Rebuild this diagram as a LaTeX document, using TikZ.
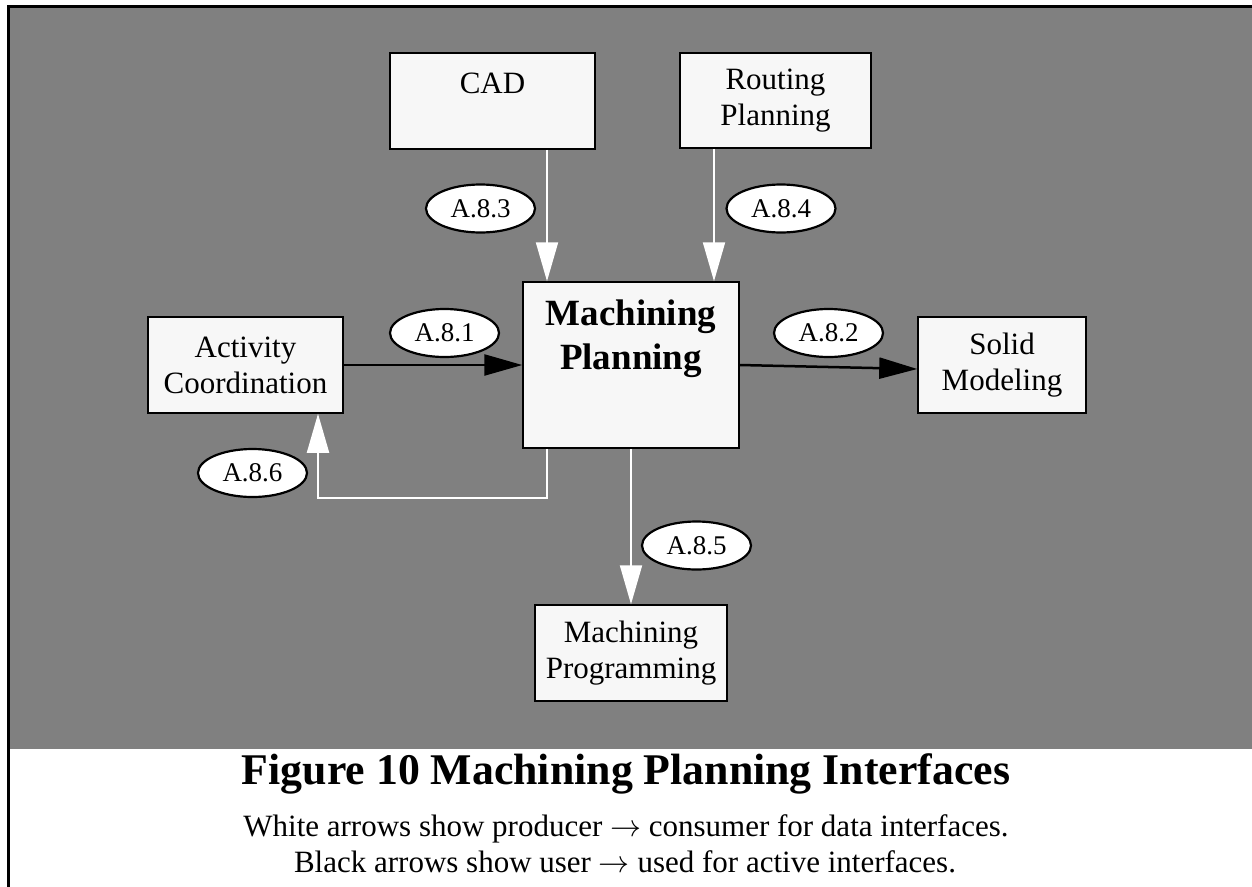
\RequirePackage{fix-cm}
\documentclass[tikz,border=0pt]{standalone}
\usepackage{fontspec}
\setmainfont{Liberation Serif}
\usetikzlibrary{arrows.meta,shapes.geometric}
\definecolor{panel}{HTML}{808080}
\definecolor{boxfill}{HTML}{F7F7F7}
\begin{document}
\begin{tikzpicture}[x=1pt,y=-1pt,
  box/.style={draw=black,line width=1.5pt,fill=boxfill,align=center,inner sep=0pt,
    font=\fontsize{31}{36}\selectfont},
  tag/.style={ellipse,draw=black,line width=2.2pt,fill=white,minimum width=109pt,
    minimum height=48pt,inner sep=0pt,font=\fontsize{27}{30}\selectfont},
  dataflow/.style={draw=white,line width=2pt,
    -{Triangle[length=39pt,width=22pt,fill=white]}},
  useflow/.style={draw=black,line width=2.5pt,
    -{Triangle[length=38pt,width=21pt,fill=black]}},
  caption/.style={anchor=base,inner sep=0pt},
]
\useasboundingbox (0,0) rectangle (1252,886);
\clip (0,0) rectangle (1252,886);
\fill[white] (0,0) rectangle (1252,886);

% gray panel and frame
\fill[panel] (8,6.5) rectangle (1260,749);
\draw[line width=3pt] (1270,6.5) -- (8,6.5) -- (8,900);

% boxes
\node[box,minimum width=205pt,minimum height=96pt] (cad) at (492.5,101) {CAD\\\phantom{P}};
\node[box,minimum width=191pt,minimum height=95pt] (rt) at (775.5,100.5) {Routing\\Planning};
\node[box,minimum width=195pt,minimum height=96pt] (act) at (245.5,365) {Activity\\Coordination};
\node[box,minimum width=216pt,minimum height=166pt] (mp) at (631,365) {};
\node[align=center,inner sep=0pt,font=\fontsize{37}{44}\selectfont\bfseries] (mptitle) at (631,339) {Machining\\Planning};
\node[box,minimum width=168pt,minimum height=96pt] (solid) at (1002,365) {Solid\\Modeling};
\node[box,minimum width=192pt,minimum height=96pt] (prog) at (631,653) {Machining\\Programming};

% lanes for the vertical connectors
\coordinate (lanecad) at (547,0);
\coordinate (lanert) at (714,0);
\coordinate (laneback) at (318,0);

% data interfaces (white)
\draw[dataflow] (cad.south -| lanecad) -- (mp.north -| lanecad);
\draw[dataflow] (rt.south -| lanert) -- (mp.north -| lanert);
\draw[dataflow] (mp.south) -- (prog.north);
\draw[dataflow] (mp.south -| lanecad) -- ++(0,49) -| (act.south -| laneback);

% active interfaces (black)
\draw[useflow] (act.east) -- (mp.west);
\draw[useflow] (mp.east) -- ([yshift=-4pt]solid.west);

% interface tags
\node[tag] (t1) at (444.5,333) {A.8.1};
\node[tag] (t2) at (828.5,333) {A.8.2};
\node[tag] (t3) at (480.5,208.5) {A.8.3};
\node[tag] (t4) at (781,208.5) {A.8.4};
\node[tag] (t5) at (696.5,545.5) {A.8.5};
\node[tag] (t6) at (252.5,473) {A.8.6};

% caption
\node[caption,font=\fontsize{43.8}{50}\selectfont\bfseries] (title) at (626,784) {Figure 10 Machining Planning Interfaces};
\node[caption,font=\fontsize{31}{36}\selectfont] (note1) at (626,836) {White arrows show producer $\rightarrow$ consumer for data interfaces.};
\node[caption,font=\fontsize{31}{36}\selectfont] (note2) at (625,872) {Black arrows show user $\rightarrow$ used for active interfaces.};
\end{tikzpicture}
\end{document}
